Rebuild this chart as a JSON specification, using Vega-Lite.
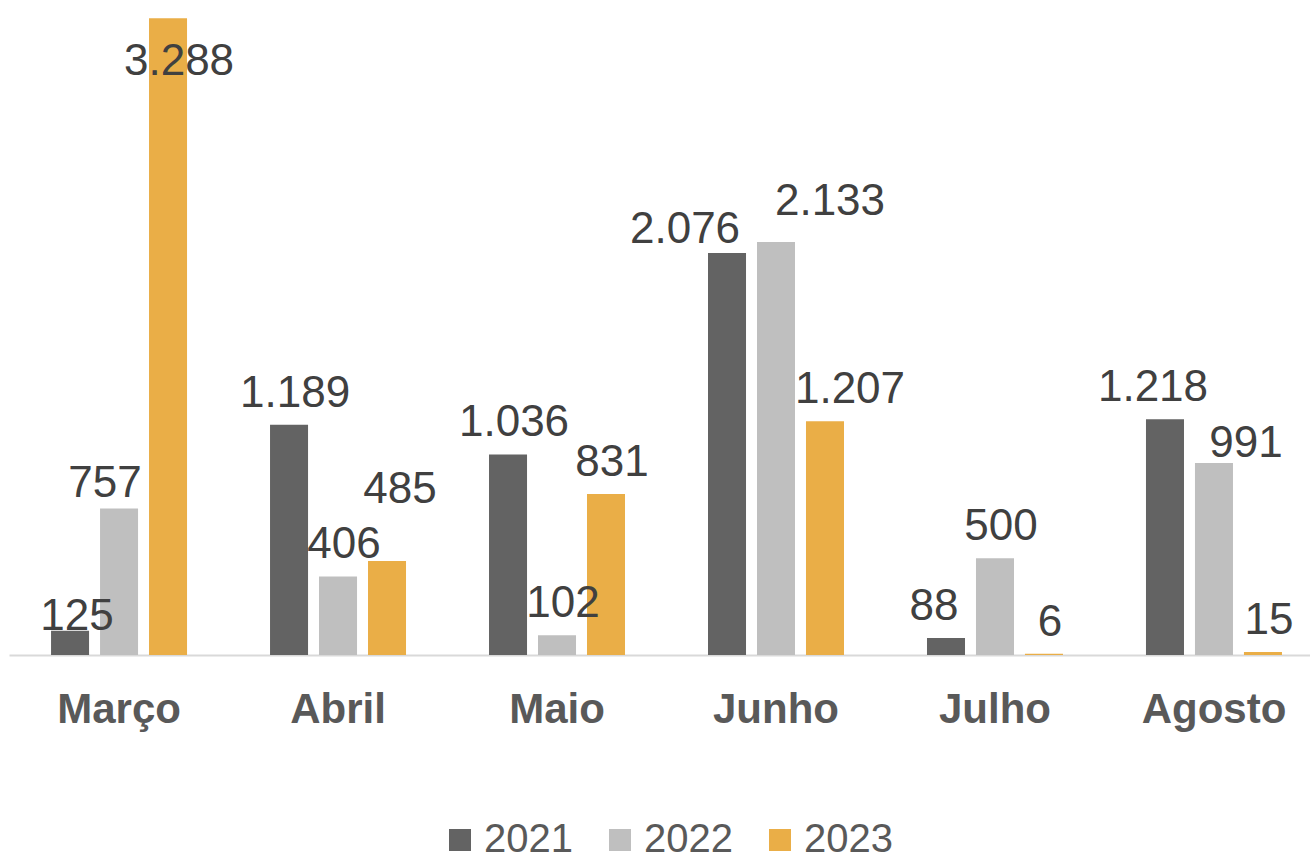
{
  "$schema": "https://vega.github.io/schema/vega-lite/v6.json",
  "autosize": {"type": "none"},
  "width": 1301,
  "height": 639,
  "padding": {"left": 9, "top": 16, "right": 0, "bottom": 205},
  "background": "white",
  "config": {
    "view": {"stroke": null},
    "font": "Liberation Sans",
    "locale": {"number": {"decimal": ",", "thousands": ".", "grouping": [3], "currency": ["R$ ", ""]}}
  },
  "data": {
    "values": [
      {"mes": "Março", "ano": "2021", "valor": 125},
      {"mes": "Março", "ano": "2022", "valor": 757},
      {"mes": "Março", "ano": "2023", "valor": 3288},
      {"mes": "Abril", "ano": "2021", "valor": 1189},
      {"mes": "Abril", "ano": "2022", "valor": 406},
      {"mes": "Abril", "ano": "2023", "valor": 485},
      {"mes": "Maio", "ano": "2021", "valor": 1036},
      {"mes": "Maio", "ano": "2022", "valor": 102},
      {"mes": "Maio", "ano": "2023", "valor": 831},
      {"mes": "Junho", "ano": "2021", "valor": 2076},
      {"mes": "Junho", "ano": "2022", "valor": 2133},
      {"mes": "Junho", "ano": "2023", "valor": 1207},
      {"mes": "Julho", "ano": "2021", "valor": 88},
      {"mes": "Julho", "ano": "2022", "valor": 500},
      {"mes": "Julho", "ano": "2023", "valor": 6},
      {"mes": "Agosto", "ano": "2021", "valor": 1218},
      {"mes": "Agosto", "ano": "2022", "valor": 991},
      {"mes": "Agosto", "ano": "2023", "valor": 15}
    ]
  },
  "encoding": {
    "x": {
      "field": "mes", "type": "nominal",
      "sort": ["Março", "Abril", "Maio", "Junho", "Julho", "Agosto"],
      "scale": {"paddingInner": 0.379, "paddingOuter": 0.16, "align": 0.6},
      "axis": {"title": null, "labelAngle": 0, "labelFont": "Liberation Sans", "labelFontSize": 42, "labelFontWeight": "bold", "labelColor": "#595959", "ticks": false, "labelPadding": 34, "domainColor": "#D9D9D9", "domainWidth": 2}
    },
    "xOffset": {"field": "ano", "type": "nominal", "sort": ["2021", "2022", "2023"], "scale": {"paddingInner": 0.224, "paddingOuter": 0}},
    "y": {"field": "valor", "type": "quantitative", "scale": {"domain": [0, 3300]}, "axis": null}
  },
  "layer": [
    {
      "mark": {"type": "bar"},
      "encoding": {
        "color": {
          "field": "ano", "type": "nominal",
          "scale": {"domain": ["2021", "2022", "2023"], "range": ["#636363", "#BFBFBF", "#EAAE47"]},
          "legend": {"orient": "none", "legendX": 431, "legendY": 804, "direction": "horizontal", "columns": 3, "title": null, "symbolType": "square", "symbolSize": 484, "symbolStrokeWidth": 0, "labelFontSize": 40, "labelColor": "#595959", "labelFont": "Liberation Sans", "labelOffset": 4, "columnPadding": 27, "padding": 0}
        }
      }
    },
    {
      "transform": [{"filter": "!(datum.mes == 'Março' || datum.mes == 'Junho' || (datum.mes == 'Abril' && datum.ano == '2023') || (datum.mes == 'Agosto' && datum.ano != '2023') || (datum.mes == 'Julho' && datum.ano == '2021'))"}],
      "mark": {"type": "text", "baseline": "alphabetic", "align": "center", "dx": 6, "dy": -18, "fontSize": 44, "font": "Liberation Sans", "fill": "#404040"},
      "encoding": {"text": {"field": "valor", "type": "quantitative", "format": ",d"}}
    },
    {
      "transform": [{"filter": "(datum.mes == 'Julho' || datum.mes == 'Agosto') && datum.ano == '2021'"}],
      "mark": {"type": "text", "baseline": "alphabetic", "align": "center", "dx": -12, "dy": -18, "fontSize": 44, "font": "Liberation Sans", "fill": "#404040"},
      "encoding": {"text": {"field": "valor", "type": "quantitative", "format": ",d"}}
    },
    {
      "transform": [{"filter": "datum.mes == 'Março' && datum.ano == '2021'"}],
      "mark": {"type": "text", "baseline": "alphabetic", "align": "center", "dx": 7, "dy": -1, "fontSize": 44, "font": "Liberation Sans", "fill": "#404040"},
      "encoding": {"text": {"field": "valor", "type": "quantitative", "format": ",d"}}
    },
    {
      "transform": [{"filter": "datum.mes == 'Março' && datum.ano == '2022'"}],
      "mark": {"type": "text", "baseline": "alphabetic", "align": "center", "dx": -14, "dy": -11, "fontSize": 44, "font": "Liberation Sans", "fill": "#404040"},
      "encoding": {"text": {"field": "valor", "type": "quantitative", "format": ",d"}}
    },
    {
      "transform": [{"filter": "datum.mes == 'Março' && datum.ano == '2023'"}],
      "mark": {"type": "text", "baseline": "alphabetic", "align": "center", "dx": 11, "dy": 57, "fontSize": 44, "font": "Liberation Sans", "fill": "#404040"},
      "encoding": {"text": {"field": "valor", "type": "quantitative", "format": ",d"}}
    },
    {
      "transform": [{"filter": "datum.mes == 'Abril' && datum.ano == '2023'"}],
      "mark": {"type": "text", "baseline": "alphabetic", "align": "center", "dx": 13, "dy": -58, "fontSize": 44, "font": "Liberation Sans", "fill": "#404040"},
      "encoding": {"text": {"field": "valor", "type": "quantitative", "format": ",d"}}
    },
    {
      "transform": [{"filter": "datum.mes == 'Junho' && datum.ano == '2021'"}],
      "mark": {"type": "text", "baseline": "alphabetic", "align": "center", "dx": -42, "dy": -10, "fontSize": 44, "font": "Liberation Sans", "fill": "#404040"},
      "encoding": {"text": {"field": "valor", "type": "quantitative", "format": ",d"}}
    },
    {
      "transform": [{"filter": "datum.mes == 'Junho' && datum.ano == '2022'"}],
      "mark": {"type": "text", "baseline": "alphabetic", "align": "center", "dx": 54, "dy": -27, "fontSize": 44, "font": "Liberation Sans", "fill": "#404040"},
      "encoding": {"text": {"field": "valor", "type": "quantitative", "format": ",d"}}
    },
    {
      "transform": [{"filter": "datum.mes == 'Junho' && datum.ano == '2023'"}],
      "mark": {"type": "text", "baseline": "alphabetic", "align": "center", "dx": 25, "dy": -18, "fontSize": 44, "font": "Liberation Sans", "fill": "#404040"},
      "encoding": {"text": {"field": "valor", "type": "quantitative", "format": ",d"}}
    },
    {
      "transform": [{"filter": "datum.mes == 'Agosto' && datum.ano == '2022'"}],
      "mark": {"type": "text", "baseline": "alphabetic", "align": "center", "dx": 32, "dy": -6, "fontSize": 44, "font": "Liberation Sans", "fill": "#404040"},
      "encoding": {"text": {"field": "valor", "type": "quantitative", "format": ",d"}}
    }
  ]
}
